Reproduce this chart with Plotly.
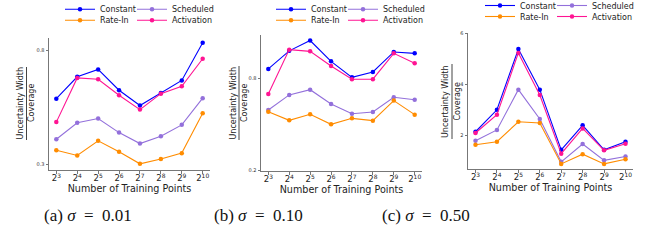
import math
import plotly.graph_objects as go

# ---------------- data ----------------
train_points = [8, 16, 32, 64, 128, 256, 512, 1024]
tick_labels = ["2<sup>3</sup>", "2<sup>4</sup>", "2<sup>5</sup>", "2<sup>6</sup>",
               "2<sup>7</sup>", "2<sup>8</sup>", "2<sup>9</sup>", "2<sup>10</sup>"]
series_names = ["Constant", "Scheduled", "Rate-In", "Activation"]

constant_a = [0.587, 0.683, 0.715, 0.624, 0.557, 0.612, 0.667, 0.832]
scheduled_a = [0.409, 0.481, 0.500, 0.438, 0.390, 0.422, 0.472, 0.589]
ratein_a = [0.361, 0.338, 0.402, 0.354, 0.301, 0.322, 0.348, 0.523]
activation_a = [0.484, 0.678, 0.672, 0.602, 0.539, 0.609, 0.641, 0.762]

constant_b = [0.861, 0.978, 1.045, 0.910, 0.806, 0.841, 0.971, 0.962]
scheduled_b = [0.594, 0.692, 0.726, 0.633, 0.570, 0.581, 0.677, 0.661]
ratein_b = [0.583, 0.527, 0.566, 0.501, 0.540, 0.525, 0.655, 0.564]
activation_b = [0.698, 0.986, 0.975, 0.880, 0.794, 0.794, 0.962, 0.897]

constant_c = [2.13, 2.99, 5.37, 3.78, 1.42, 2.38, 1.42, 1.74]
scheduled_c = [1.78, 2.20, 3.78, 2.63, 0.95, 1.65, 1.01, 1.16]
ratein_c = [1.62, 1.74, 2.52, 2.47, 0.87, 1.25, 0.87, 1.05]
activation_c = [2.08, 2.80, 5.22, 3.57, 1.27, 2.26, 1.40, 1.66]

yticks_a = [0.3, 0.8]
yticks_b = [0.2, 0.8]
yticks_c = [2, 4, 6]
ytitle_top = "Uncertainty Width"
ytitle_bottom = "Coverage"
xtitle = "Number of Training Points"
captions = ["(a) <i>σ</i>  =  0.01", "(b) <i>σ</i>  =  0.10", "(c) <i>σ</i>  =  0.50"]

# ---------------- styling ----------------
W, H = 657, 247
colors = {"Constant": "#0000ff", "Scheduled": "#9370db",
          "Rate-In": "#ff8c00", "Activation": "#ff1493"}
FONT = "DejaVu Sans"


def px_x(p):
    return p / W


def px_y(p):
    return 1 - p / H


panels = [
    dict(data={"Constant": constant_a, "Scheduled": scheduled_a, "Rate-In": ratein_a, "Activation": activation_a},
         xdom=(49, 210), ydom=(38, 170), yrange=(0.274, 0.853), yticks=yticks_a,
         leg_cols=(85, 157), leg_rows=(12.3, 23.3),
         frac=dict(num_x=20, den_x=31.5, line_x=26.5, y0=67, y1=140),
         cap_x=88),
    dict(data={"Constant": constant_b, "Scheduled": scheduled_b, "Rate-In": ratein_b, "Activation": activation_b},
         xdom=(261, 422), ydom=(35, 171), yrange=(0.198, 1.081), yticks=yticks_b,
         leg_cols=(296, 368), leg_rows=(12.3, 23.3),
         frac=dict(num_x=232.5, den_x=244, line_x=239, y0=66, y1=140),
         cap_x=258),
    dict(data={"Constant": constant_c, "Scheduled": scheduled_c, "Rate-In": ratein_c, "Activation": activation_c},
         xdom=(468, 633), ydom=(33, 169), yrange=(0.67, 6.0), yticks=yticks_c,
         leg_cols=(505, 577), leg_rows=(8.5, 19.5),
         frac=dict(num_x=445.5, den_x=457, line_x=452, y0=64, y1=139),
         cap_x=426),
]

# legend slot (column, row) for each series
slot = {"Constant": (0, 0), "Scheduled": (1, 0), "Rate-In": (0, 1), "Activation": (1, 1)}

fig = go.Figure()
layout = dict(width=W, height=H, margin=dict(l=0, r=0, t=0, b=0, autoexpand=False),
              paper_bgcolor="white", plot_bgcolor="white", showlegend=True,
              font=dict(family=FONT, color="#222"))
annotations = []
shapes = []

lx0 = math.log10(train_points[0])
step = math.log10(2)
xr = [lx0 - 0.35 * step, lx0 + 7.35 * step]

legend_idx = 1
for i, p in enumerate(panels):
    sfx = "" if i == 0 else str(i + 1)
    xa, ya = "x" + sfx, "y" + sfx
    for nm in series_names:
        c, r = slot[nm]
        lname = "legend" if legend_idx == 1 else "legend%d" % legend_idx
        legend_idx += 1
        layout[lname] = dict(
            orientation="h", x=px_x(p["leg_cols"][c] - 25), xanchor="left",
            y=px_y(p["leg_rows"][r] - 3), yanchor="middle",
            font=dict(family=FONT, size=8, color="#222"),
            bgcolor="rgba(0,0,0,0)", borderwidth=0, itemwidth=30,
        )
        fig.add_trace(go.Scatter(
            x=train_points, y=p["data"][nm], mode="lines+markers", name=nm,
            line=dict(color=colors[nm], width=1.1),
            marker=dict(color=colors[nm], size=4.5),
            xaxis=xa, yaxis=ya, legend=lname,
        ))
    layout["xaxis" + sfx] = dict(
        domain=[px_x(p["xdom"][0]), px_x(p["xdom"][1])], anchor=ya,
        type="log", range=xr, tickvals=train_points, ticktext=tick_labels,
        showline=True, linecolor="#777", linewidth=1, ticks="outside", ticklen=3,
        tickcolor="#777", showgrid=False, zeroline=False, ticklabelstandoff=-3,
        tickfont=dict(family=FONT, size=8.5, color="#222"),
        title=dict(text=xtitle, font=dict(family=FONT, size=9.6, color="#222"), standoff=2),
    )
    layout["yaxis" + sfx] = dict(
        domain=[px_y(p["ydom"][1]), px_y(p["ydom"][0])], anchor=xa,
        range=list(p["yrange"]), tickvals=p["yticks"], ticktext=[str(t) for t in p["yticks"]],
        showline=True, linecolor="#777", linewidth=1, ticks="outside", ticklen=2.5,
        tickcolor="#777", showgrid=False, zeroline=False,
        tickfont=dict(family=FONT, size=5, color="#333"),
    )
    f = p["frac"]
    yc = px_y((f["y0"] + f["y1"]) / 2)
    for txt, xx in ((ytitle_top, f["num_x"]), (ytitle_bottom, f["den_x"])):
        annotations.append(dict(text=txt, x=px_x(xx), y=yc, xref="paper", yref="paper",
                                showarrow=False, textangle=-90, xanchor="center", yanchor="middle",
                                font=dict(family=FONT, size=8, color="#222")))
    shapes.append(dict(type="line", xref="paper", yref="paper",
                       x0=px_x(f["line_x"]), x1=px_x(f["line_x"]),
                       y0=px_y(f["y0"]), y1=px_y(f["y1"]),
                       line=dict(color="#444", width=1)))
    annotations.append(dict(text=captions[i], x=px_x(p["cap_x"]), y=px_y(215),
                            xref="paper", yref="paper", showarrow=False,
                            xanchor="center", yanchor="middle",
                            font=dict(family="Liberation Serif", size=17, color="#111")))

layout["annotations"] = annotations
layout["shapes"] = shapes
fig.update_layout(**layout)
fig.write_html("out.html", config={"displayModeBar": False},
               post_script="document.body.style.margin='0';")
